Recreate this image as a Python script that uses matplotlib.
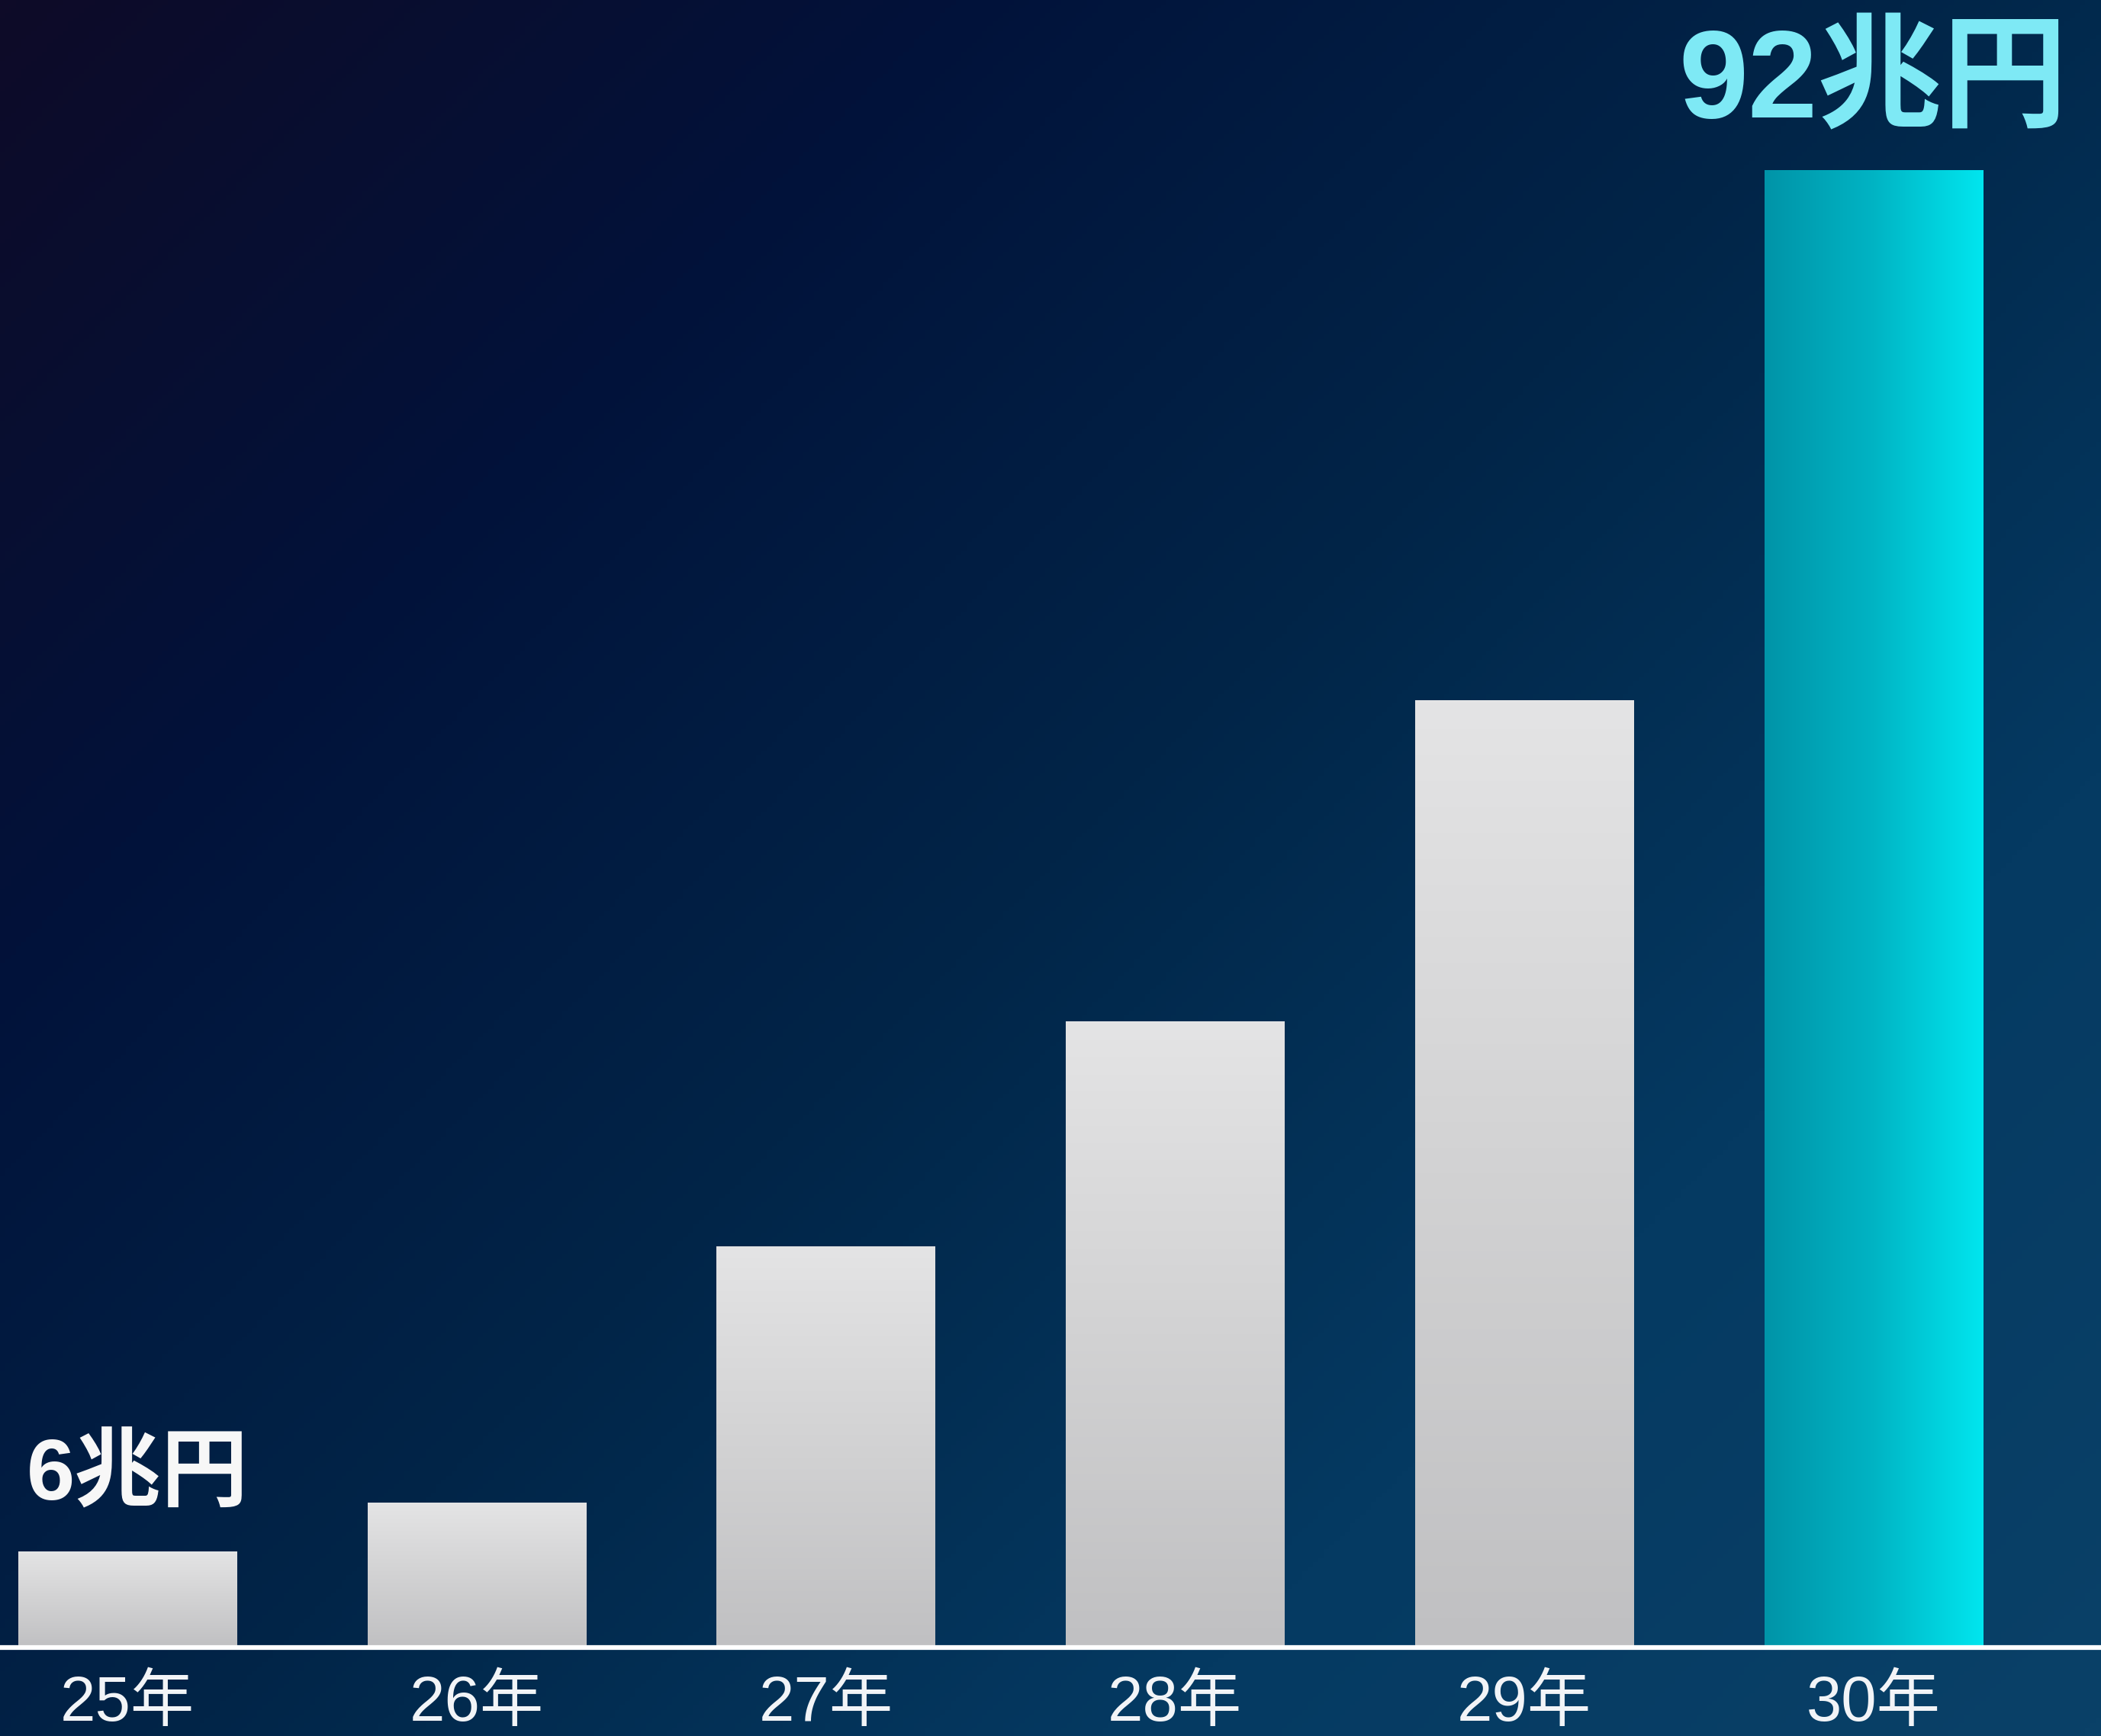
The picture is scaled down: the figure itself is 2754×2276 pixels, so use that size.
import numpy as np
import matplotlib.pyplot as plt
from matplotlib.colors import LinearSegmentedColormap

# 市場規模の推移 (兆円)
years = ["25年", "26年", "27年", "28年", "29年", "30年"]
values = [6, 9, 25, 39, 59, 92]
first_label = "6兆円"
last_label = "92兆円"

FAMILY = ["Liberation Sans", "Noto Sans CJK JP"]

fig = plt.figure(figsize=(27.54, 22.76), dpi=100)

# background: diagonal navy gradient
bg = fig.add_axes([0, 0, 1, 1], zorder=-1)
bg.set_axis_off()
gx, gy = np.meshgrid(np.linspace(0, 1, 400), np.linspace(0, 1, 400))
t = 0.55 * gx + 0.45 * gy
bg_cmap = LinearSegmentedColormap.from_list(
    "bg", ["#0e0b28", "#02123a", "#012548", "#053a62", "#0a4168"])
bg.imshow(t, cmap=bg_cmap, aspect="auto", extent=[0, 1, 0, 1], origin="upper")
bg.set_xlim(0, 1)
bg.set_ylim(0, 1)

ax = fig.add_axes([0, 0.051, 1, 0.949])
ax.set_facecolor("none")
x = np.arange(len(years))
bars = ax.bar(x, values, width=0.625, color="none", edgecolor="none")
ax.set_xlim(-0.365, 5.652)
ax.set_ylim(0, 102.6)
ax.set_axis_off()

gray_cmap = LinearSegmentedColormap.from_list("gray", ["#c0c0c2", "#d2d2d3", "#e4e4e5"])
cyan_cmap = LinearSegmentedColormap.from_list("cyan", ["#0094a8", "#00b4c4", "#00e6ef"])

for i, b in enumerate(bars):
    x0, y0 = b.get_x(), b.get_y()
    w, h = b.get_width(), b.get_height()
    if i == len(bars) - 1:
        grad = np.linspace(0, 1, 256).reshape(1, -1)
        cmap = cyan_cmap
    else:
        grad = np.linspace(1, 0, 256).reshape(-1, 1)
        cmap = gray_cmap
    im = ax.imshow(grad, cmap=cmap, aspect="auto", extent=[x0, x0 + w, y0, y0 + h],
                   origin="upper", zorder=2)
    im.set_clip_path(b)

# white baseline across the full width
ax.axhline(0, color="white", lw=4.5, zorder=3, clip_on=False)

for xi, lab in zip(x, years):
    ax.annotate(lab, xy=(xi, 0), xycoords="data", xytext=(0, -69),
                textcoords="offset points", ha="center", va="baseline",
                fontsize=60, color="#f2f4f7", family=FAMILY, annotation_clip=False)

ax.text(-0.288, values[0] + 3.2, first_label, ha="left", va="baseline",
        fontsize=82, fontweight="bold", color="#f7f7f7", family=FAMILY)
ax.text(x[-1], values[-1] + 3.25, last_label, ha="center", va="baseline",
        fontsize=118, fontweight="bold", color="#7ee9f5", family=FAMILY)

fig.savefig("out.png", dpi=100)
